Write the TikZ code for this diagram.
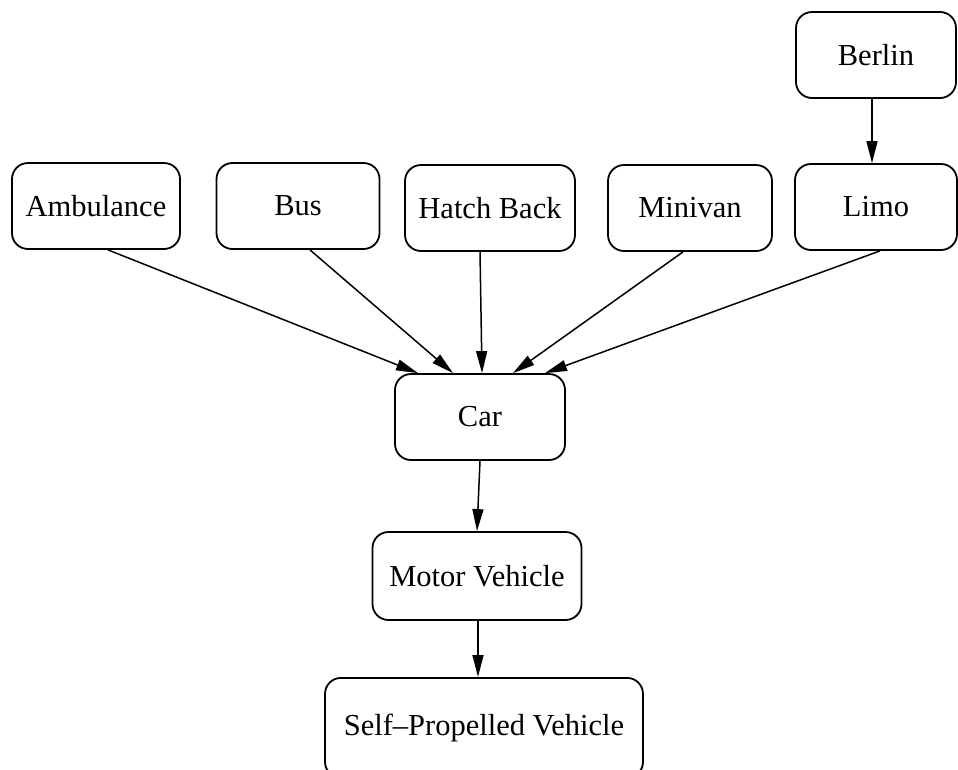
\documentclass[tikz,border=0pt]{standalone}
\usepackage{fontspec}
\setmainfont{Liberation Serif}
\usetikzlibrary{arrows.meta}
\begin{document}
\begin{tikzpicture}[x=1pt,y=-1pt,
  box/.style={draw,line width=1.8pt,rounded corners=16pt,minimum height=86pt,inner sep=0pt,font=\fontsize{30.5}{36}\selectfont},
  arr/.style={line width=1.5pt,-{Triangle[length=22pt,width=11pt]}}]
\useasboundingbox (0,0) rectangle (958,769);
\clip (0,0) rectangle (958,769);
\node[box,minimum width=160pt] (berlin) at (876,55) {Berlin};
\node[box,minimum width=162pt] (limo) at (876,207) {Limo};
\node[box,minimum width=168pt] (amb) at (96,206) {Ambulance};
\node[box,minimum width=163pt] (bus) at (298,206) {Bus};
\node[box,minimum width=170pt] (hatch) at (490,208) {Hatch Back};
\node[box,minimum width=164pt] (mini) at (690,208) {Minivan};
\node[box,minimum width=170pt] (car) at (480,417) {Car};
\node[box,minimum width=209pt,minimum height=88pt] (motor) at (477,576) {Motor Vehicle};
\node[box,minimum width=318pt,minimum height=100pt,anchor=north] (self) at (484,677) {Self–Propelled Vehicle};
\draw[arr] ([xshift=-4pt]berlin.south) -- ([xshift=-4pt]limo.north);
\draw[arr] ([xshift=12pt]amb.south) -- ([xshift=-62pt]car.north);
\draw[arr] ([xshift=12pt]bus.south) -- ([xshift=-27pt]car.north);
\draw[arr] ([xshift=-10pt]hatch.south) -- ([xshift=2pt]car.north);
\draw[arr] ([xshift=-7pt]mini.south) -- ([xshift=33pt]car.north);
\draw[arr] ([xshift=4pt]limo.south) -- ([xshift=65pt]car.north);
\draw[arr] (car.south) -- (motor.north);
\draw[arr] ([xshift=1pt]motor.south) -- ([xshift=-6pt]self.north);
\end{tikzpicture}
\end{document}
